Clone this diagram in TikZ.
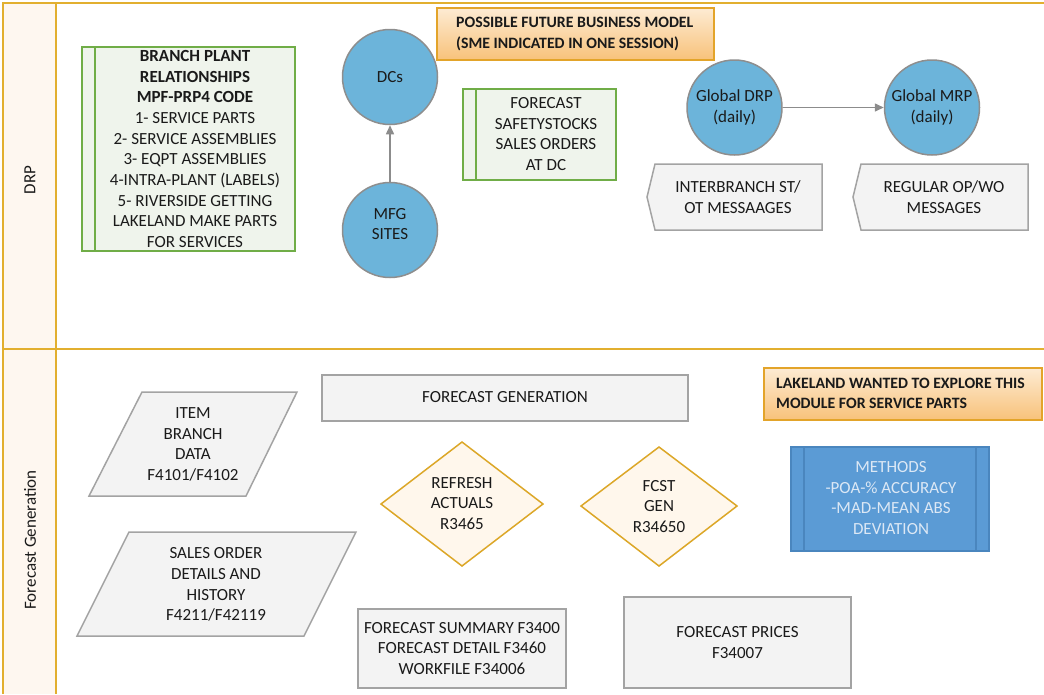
\documentclass[tikz,border=0pt]{standalone}
\usepackage{fontspec}
\setmainfont{Carlito}
\usetikzlibrary{arrows.meta}
\definecolor{lanegold}{HTML}{E2AF2F}
\definecolor{lanefill}{HTML}{FEF7F0}
\definecolor{grnline}{HTML}{70AD47}
\definecolor{grnfill}{HTML}{EFF4EC}
\definecolor{bubble}{HTML}{6CB4DA}
\definecolor{bubbleline}{HTML}{8E8E8E}
\definecolor{greyfill}{HTML}{F3F3F3}
\definecolor{greyline}{HTML}{A3A3A3}
\definecolor{decline}{HTML}{DCA728}
\definecolor{decfill}{HTML}{FFF7EC}
\definecolor{noteline}{HTML}{E3A42A}
\definecolor{notetop}{HTML}{FDEBD3}
\definecolor{notebot}{HTML}{F8C27A}
\definecolor{methfill}{HTML}{5B9BD5}
\definecolor{methline}{HTML}{4A86BE}
\definecolor{methtext}{HTML}{DCE8F5}
\definecolor{ink}{HTML}{1A1A1A}
\definecolor{flow}{HTML}{8C8C8C}
\begin{document}
\begin{tikzpicture}[x=1pt,y=-1pt,
  font=\fontsize{17}{20.7}\selectfont, text=ink,
  txt/.style={inner sep=0pt, align=center},
  lane/.style={draw=lanegold, line width=2pt},
  grnbox/.style={draw=grnline, fill=grnfill, line width=1.5pt},
  greybox/.style={draw=greyline, fill=greyfill, line width=1.5pt},
  decbox/.style={draw=decline, fill=decfill, line width=1.5pt},
  notebox/.style={draw=noteline, line width=1.5pt, top color=notetop, bottom color=notebot},
  notetext/.style={inner sep=0pt, anchor=west, align=left, font=\fontsize{15.8}{20.3}\selectfont\bfseries},
  bubblenode/.style={circle, draw=bubbleline, fill=bubble, line width=1.5pt, minimum size=95pt, inner sep=0pt, align=center},
  flowarrow/.style={draw=flow, line width=1.5pt, -{Triangle[length=9pt,width=8pt]}}
]
\useasboundingbox (0,0) rectangle (1044,694);

% swimlane frame
\fill[lanefill] (3,3) rectangle (56,694);
\draw[lane] (1044,3) -- (3,3) -- (3,694);
\draw[lane] (56,3) -- (56,694);
\draw[lane] (3,349) -- (1044,349);
\node[txt, rotate=90] (lanedrp) at (30,180) {DRP};
\node[txt, rotate=90] (lanefc) at (30,540) {Forecast Generation};

% ---- DRP lane ----
\draw[grnbox] (82,47) rectangle (295,251);
\draw[grnline, line width=1.5pt] (95,47) -- (95,251);
\node[txt] (branch) at (195,149) {\textbf{BRANCH PLANT}\\\textbf{RELATIONSHIPS}\\\textbf{MPF-PRP4 CODE}\\1- SERVICE PARTS\\2- SERVICE ASSEMBLIES\\3- EQPT ASSEMBLIES\\4-INTRA-PLANT (LABELS)\\5- RIVERSIDE GETTING\\LAKELAND MAKE PARTS\\FOR SERVICES};

\node[bubblenode] (dcs) at (390,77) {DCs};
\node[bubblenode] (mfg) at (390,230) {};
\node[txt] (mfgtxt) at (390,224) {MFG\\SITES};
\draw[flowarrow] (mfg.north) -- (dcs.south);

\draw[notebox] (437,8) rectangle (714,60);
\node[notetext] (future) at (456,34) {POSSIBLE FUTURE BUSINESS MODEL\\(SME INDICATED IN ONE SESSION)};

\draw[grnbox] (463,89) rectangle (616,180);
\draw[grnline, line width=1.5pt] (476,89) -- (476,180);
\node[txt] (fcstdc) at (546,134) {FORECAST\\SAFETYSTOCKS\\SALES ORDERS\\AT DC};

\node[bubblenode] (gdrp) at (734.5,107.5) {Global DRP\\(daily)};
\node[bubblenode] (gmrp) at (932,107.5) {Global MRP\\(daily)};
\draw[flowarrow] (gdrp.east) -- (gmrp.west);

\draw[greybox] (655,164) -- (822,164) -- (822,230) -- (655,230) -- (647,197) -- cycle;
\node[txt] (interbr) at (738,197) {INTERBRANCH ST/\\OT MESSAAGES};
\draw[greybox] (861,164) -- (1028,164) -- (1028,230) -- (861,230) -- (853,197) -- cycle;
\node[txt] (regular) at (944,197) {REGULAR OP/WO\\MESSAGES};

% ---- Forecast Generation lane ----
\draw[greybox] (322,375) rectangle (688,421);
\node[txt] (fcgen) at (505,397) {FORECAST GENERATION};

\draw[greybox] (142,392) -- (297,392) -- (246,496) -- (89,496) -- cycle;
\node[txt] (item) at (193,444.5) {ITEM\\BRANCH\\DATA\\F4101/F4102};

\draw[greybox] (129,532) -- (356,532) -- (304,636) -- (77,636) -- cycle;
\node[txt] (sales) at (216,584.5) {SALES ORDER\\DETAILS AND\\HISTORY\\F4211/F42119};

\draw[decbox] (381,504) -- (462,442) -- (543,504) -- (462,566) -- cycle;
\node[txt] (refresh) at (462,503.5) {REFRESH\\ACTUALS\\R3465};

\draw[decbox] (581,506) -- (659,447) -- (737,506) -- (659,566) -- cycle;
\node[txt] (fcst) at (659,506.5) {FCST\\GEN\\R34650};

\draw[greybox] (358,609) rectangle (566,688);
\node[txt] (summary) at (462,648.5) {FORECAST SUMMARY F3400\\FORECAST DETAIL F3460\\WORKFILE F34006};

\draw[greybox] (624,597) rectangle (851,688);
\node[txt] (prices) at (737.5,642.5) {FORECAST PRICES\\F34007};

\draw[notebox] (764,368) rectangle (1042,420);
\node[notetext] (lakeland) at (776,393.5) {LAKELAND WANTED TO EXPLORE THIS\\MODULE FOR SERVICE PARTS};

\draw[draw=methline, fill=methfill, line width=1.5pt] (791,447) rectangle (989,551);
\draw[methline, line width=1.5pt] (804,447) -- (804,551) (976,447) -- (976,551);
\node[txt, text=methtext] (methods) at (891,498) {METHODS\\-POA-\% ACCURACY\\-MAD-MEAN ABS\\DEVIATION};
\end{tikzpicture}
\end{document}
